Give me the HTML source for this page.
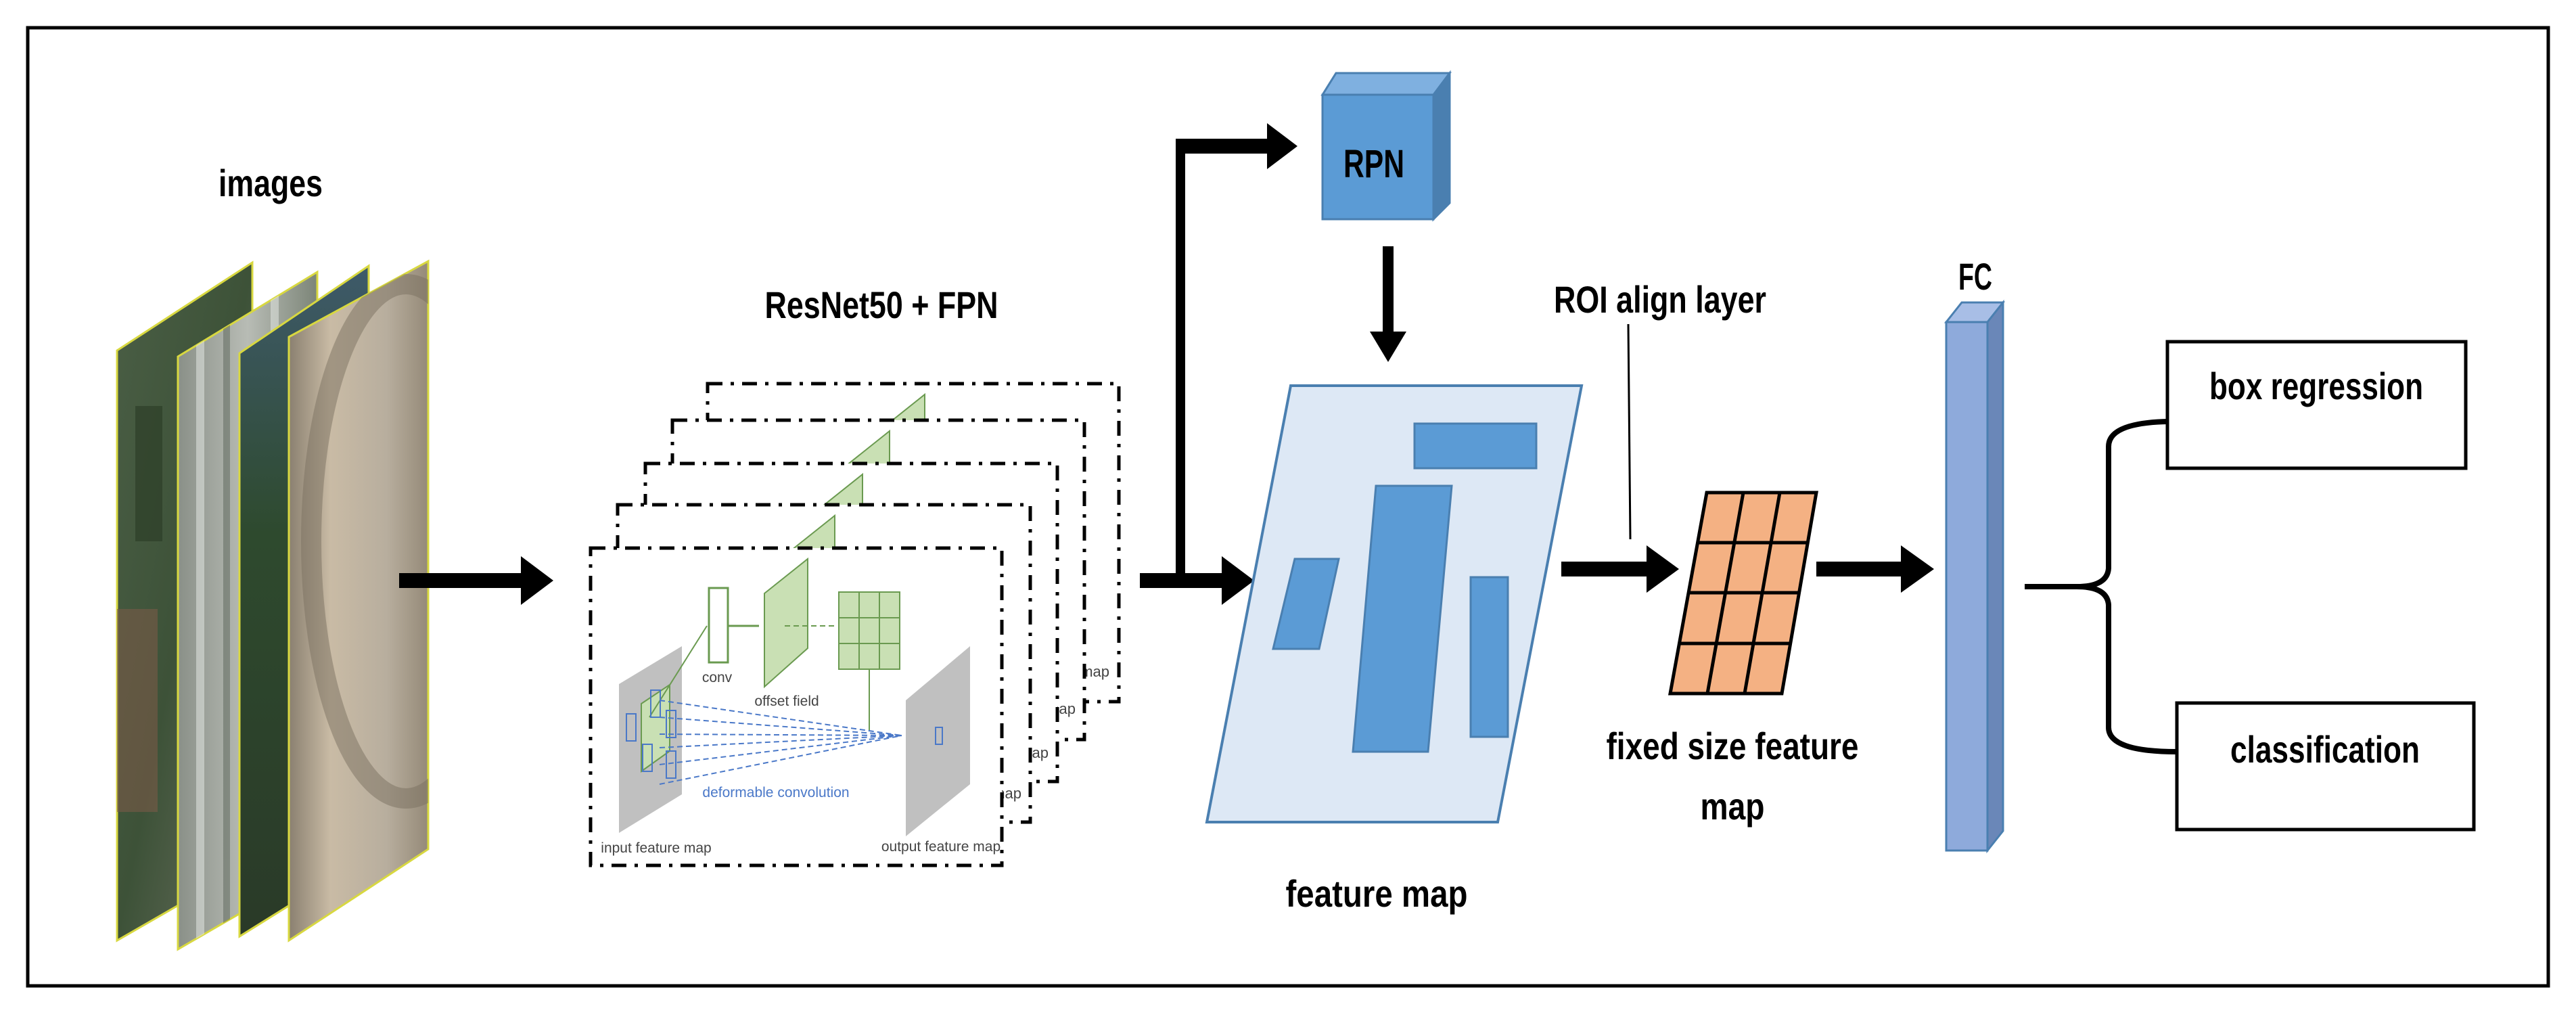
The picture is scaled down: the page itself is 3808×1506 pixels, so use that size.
<!DOCTYPE html>
<html><head><meta charset="utf-8"><style>html,body{margin:0;padding:0;background:#fff}svg{display:block}</style></head>
<body>
<svg width="3808" height="1506" viewBox="0 0 3808 1506" xmlns="http://www.w3.org/2000/svg" font-family="Liberation Sans, sans-serif">
<defs>
<linearGradient id="g1" x1="0" y1="0" x2="1" y2="1"><stop offset="0" stop-color="#4a5e45"/><stop offset="0.5" stop-color="#3d5238"/><stop offset="1" stop-color="#6b7060"/></linearGradient>
<linearGradient id="g2" x1="0" y1="0" x2="1" y2="0"><stop offset="0" stop-color="#8a9088"/><stop offset="0.5" stop-color="#b8bcb5"/><stop offset="1" stop-color="#7c8578"/></linearGradient>
<linearGradient id="g3" x1="0" y1="0" x2="0" y2="1"><stop offset="0" stop-color="#3e5a6a"/><stop offset="0.4" stop-color="#2e4a2e"/><stop offset="1" stop-color="#2a3a28"/></linearGradient>
<linearGradient id="g4" x1="0" y1="0" x2="1" y2="0"><stop offset="0" stop-color="#8a8070"/><stop offset="0.3" stop-color="#c9bba5"/><stop offset="0.7" stop-color="#b8ae9e"/><stop offset="1" stop-color="#958a78"/></linearGradient>
<clipPath id="c1"><polygon points="173,518 373,388 373,1275 173,1390"/></clipPath>
<clipPath id="c2"><polygon points="263,527 469,402 469,1284 263,1403"/></clipPath>
<clipPath id="c4"><polygon points="427,498 633,386 633,1255 427,1390"/></clipPath>
</defs>
<rect x="41" y="41" width="3726" height="1416" fill="#fff" stroke="#000" stroke-width="5"/>

<!-- images -->
<text x="400" y="290" font-size="56" font-weight="bold" text-anchor="middle" textLength="154" lengthAdjust="spacingAndGlyphs">images</text>
<polygon points="173,518 373,388 373,1275 173,1390" fill="url(#g1)" stroke="#d8d840" stroke-width="3"/>
<g clip-path="url(#c1)" opacity="0.6"><rect x="173" y="900" width="60" height="300" fill="#7a5a48"/><rect x="200" y="600" width="40" height="200" fill="#2a3a25"/></g>
<polygon points="263,527 469,402 469,1284 263,1403" fill="url(#g2)" stroke="#d8d840" stroke-width="3"/>
<g clip-path="url(#c2)" opacity="0.5"><rect x="290" y="400" width="12" height="1000" fill="#e8ece8"/><rect x="330" y="400" width="10" height="1000" fill="#5a6458"/><rect x="400" y="400" width="12" height="1000" fill="#e8ece8"/></g>
<polygon points="354,522 545,393 545,1265 354,1384" fill="url(#g3)" stroke="#d8d840" stroke-width="3"/>
<polygon points="427,498 633,386 633,1255 427,1390" fill="url(#g4)" stroke="#d8d840" stroke-width="3"/>
<g clip-path="url(#c4)" opacity="0.5"><ellipse cx="600" cy="800" rx="140" ry="380" fill="none" stroke="#7a7060" stroke-width="30"/></g>

<!-- arrow images -> resnet -->
<rect x="590" y="847" width="185" height="22" fill="#000"/>
<polygon points="770,822 818,858 770,894" fill="#000"/>

<text x="1303" y="470" font-size="56" font-weight="bold" text-anchor="middle" textLength="345" lengthAdjust="spacingAndGlyphs">ResNet50 + FPN</text>

<!-- back boxes -->
<g stroke="#000" stroke-width="5" stroke-dasharray="22,12,5,12" fill="#fff">
<rect x="1046" y="567" width="608" height="470"/>
<polygon points="1303,634 1367,583 1367,715 1303,772" fill="#c9e0b4" stroke="#6a9a50" stroke-width="2" stroke-dasharray="none"/>
<text x="1640" y="1000" font-size="22" fill="#444" stroke="none" text-anchor="end">map</text>
<rect x="994" y="621" width="609" height="472"/>
<polygon points="1251,688 1315,637 1315,769 1251,826" fill="#c9e0b4" stroke="#6a9a50" stroke-width="2" stroke-dasharray="none"/>
<text x="1590" y="1055" font-size="22" fill="#444" stroke="none" text-anchor="end">map</text>
<rect x="954" y="685" width="609" height="470"/>
<polygon points="1211,752 1275,701 1275,833 1211,890" fill="#c9e0b4" stroke="#6a9a50" stroke-width="2" stroke-dasharray="none"/>
<text x="1550" y="1120" font-size="22" fill="#444" stroke="none" text-anchor="end">map</text>
<rect x="913" y="746" width="610" height="469"/>
<polygon points="1170,813 1234,762 1234,894 1170,951" fill="#c9e0b4" stroke="#6a9a50" stroke-width="2" stroke-dasharray="none"/>
<text x="1510" y="1180" font-size="22" fill="#444" stroke="none" text-anchor="end">map</text>
<rect x="873" y="810" width="608" height="469"/>
</g>
<!-- front box content -->
<polygon points="915,1011 1008,955 1008,1174 915,1231" fill="#c0c0c0"/>
<polygon points="1339,1035 1434,955 1434,1159 1339,1236" fill="#c0c0c0"/>
<polygon points="948,1040 990,1012 990,1110 948,1140" fill="#c9e0b4" stroke="#6a9a50" stroke-width="2"/>
<rect x="1048" y="869" width="28" height="110" fill="#fff" stroke="#6a9a50" stroke-width="3"/>
<polygon points="1130,877 1194,826 1194,958 1130,1015" fill="#c9e0b4" stroke="#6a9a50" stroke-width="2"/>
<rect x="1240" y="875" width="90" height="114" fill="#c9e0b4" stroke="#6a9a50" stroke-width="2"/>
<g stroke="#6a9a50" stroke-width="2"><line x1="1270" y1="875" x2="1270" y2="989"/><line x1="1300" y1="875" x2="1300" y2="989"/><line x1="1240" y1="913" x2="1330" y2="913"/><line x1="1240" y1="951" x2="1330" y2="951"/>
<line x1="1076" y1="925" x2="1122" y2="925" stroke-width="3"/><line x1="1160" y1="925" x2="1235" y2="925" stroke-dasharray="8,5"/><line x1="1285" y1="989" x2="1285" y2="1080"/><line x1="960" y1="1060" x2="1045" y2="925"/></g>
<g stroke="#4a78c8" stroke-width="2" stroke-dasharray="8,5" fill="none">
<line x1="975" y1="1035" x2="1333" y2="1087"/><line x1="975" y1="1060" x2="1333" y2="1087"/><line x1="975" y1="1085" x2="1333" y2="1087"/><line x1="975" y1="1105" x2="1333" y2="1087"/><line x1="975" y1="1130" x2="1333" y2="1087"/><line x1="975" y1="1159" x2="1333" y2="1087"/></g>
<g stroke="#4a78c8" stroke-width="2" fill="none"><rect x="926" y="1055" width="14" height="40"/><rect x="962" y="1020" width="14" height="40"/><rect x="985" y="1050" width="14" height="40"/><rect x="950" y="1100" width="14" height="40"/><rect x="985" y="1110" width="14" height="40"/><rect x="1383" y="1075" width="10" height="25"/></g>
<g font-size="21" fill="#444"><text x="1060" y="1008" text-anchor="middle">conv</text><text x="1163" y="1043" text-anchor="middle">offset field</text><text x="970" y="1260" text-anchor="middle">input feature map</text><text x="1391" y="1258" text-anchor="middle">output feature map</text><text x="1147" y="1178" text-anchor="middle" fill="#4a78c8">deformable convolution</text></g>

<!-- arrows to feature map / RPN -->
<rect x="1685" y="847" width="125" height="22" fill="#000"/>
<polygon points="1806,822 1854,858 1806,894" fill="#000"/>
<rect x="1738" y="209" width="14" height="650" fill="#000"/>
<rect x="1738" y="205" width="140" height="22" fill="#000"/>
<polygon points="1873,182 1918,216 1873,250" fill="#000"/>

<!-- RPN cube -->
<polygon points="1955,140 1975,108 2143,108 2119,140" fill="#7fb0e0" stroke="#4a7fb0" stroke-width="3"/>
<polygon points="2119,140 2143,108 2143,300 2119,324" fill="#4a7fb0" stroke="#4a7fb0" stroke-width="3"/>
<rect x="1955" y="140" width="164" height="184" fill="#5b9bd5" stroke="#4a7fb0" stroke-width="3"/>
<text x="2031" y="262" font-size="58" font-weight="bold" text-anchor="middle" textLength="90" lengthAdjust="spacingAndGlyphs">RPN</text>
<rect x="2044" y="364" width="16" height="130" fill="#000"/>
<polygon points="2025,490 2079,490 2052,535" fill="#000"/>

<!-- feature map -->
<polygon points="1908,570 2338,570 2214,1215 1784,1215" fill="#dde8f5" stroke="#4a7fb0" stroke-width="4"/>
<rect x="2091" y="626" width="180" height="66" fill="#5b9bd5" stroke="#4a7fb0" stroke-width="3"/>
<polygon points="2034,718 2146,718 2111,1111 2000,1111" fill="#5b9bd5" stroke="#4a7fb0" stroke-width="3"/>
<rect x="2174" y="853" width="55" height="236" fill="#5b9bd5" stroke="#4a7fb0" stroke-width="3"/>
<polygon points="1914,826 1979,826 1950,959 1882,959" fill="#5b9bd5" stroke="#4a7fb0" stroke-width="3"/>
<text x="2035" y="1340" font-size="56" font-weight="bold" text-anchor="middle" textLength="269" lengthAdjust="spacingAndGlyphs">feature map</text>

<!-- ROI -->
<text x="2454" y="462" font-size="56" font-weight="bold" text-anchor="middle" textLength="314" lengthAdjust="spacingAndGlyphs">ROI align layer</text>
<line x1="2407" y1="479" x2="2410" y2="797" stroke="#000" stroke-width="3"/>
<rect x="2308" y="830" width="130" height="22" fill="#000"/>
<polygon points="2434,806 2482,841 2434,876" fill="#000"/>

<!-- grid -->
<polygon points="2523,728 2685,728 2634,1025 2469,1025" fill="#f4b183" stroke="#000" stroke-width="5"/>
<g stroke="#000" stroke-width="5">
<line x1="2577" y1="728" x2="2524" y2="1025"/><line x1="2631" y1="728" x2="2579" y2="1025"/>
<line x1="2509" y1="802" x2="2672" y2="802"/><line x1="2496" y1="876" x2="2660" y2="876"/><line x1="2482" y1="951" x2="2647" y2="951"/></g>
<text x="2561" y="1122" font-size="56" font-weight="bold" text-anchor="middle" textLength="373" lengthAdjust="spacingAndGlyphs">fixed size feature</text>
<text x="2561" y="1211" font-size="56" font-weight="bold" text-anchor="middle" textLength="95" lengthAdjust="spacingAndGlyphs">map</text>
<rect x="2685" y="830" width="130" height="22" fill="#000"/>
<polygon points="2810,806 2859,841 2810,876" fill="#000"/>

<!-- FC -->
<polygon points="2877,476 2900,447 2961,447 2938,476" fill="#a8bee6" stroke="#4a7fb0" stroke-width="3"/>
<polygon points="2938,476 2961,447 2961,1228 2938,1257" fill="#6a87b8" stroke="#4a7fb0" stroke-width="3"/>
<rect x="2877" y="476" width="61" height="781" fill="#8eaadb" stroke="#4a7fb0" stroke-width="3"/>
<text x="2920" y="428" font-size="56" font-weight="bold" text-anchor="middle" textLength="50" lengthAdjust="spacingAndGlyphs">FC</text>

<!-- brace -->
<path d="M2993,867 L3070,867 Q3115,867 3117,840 L3117,660 Q3117,625 3204,623 M3070,867 Q3115,867 3117,894 L3117,1075 Q3117,1111 3218,1111" fill="none" stroke="#000" stroke-width="8"/>

<rect x="3204" y="505" width="441" height="187" fill="#fff" stroke="#000" stroke-width="5"/>
<text x="3424" y="590" font-size="56" font-weight="bold" text-anchor="middle" textLength="316" lengthAdjust="spacingAndGlyphs">box regression</text>
<rect x="3218" y="1039" width="439" height="187" fill="#fff" stroke="#000" stroke-width="5"/>
<text x="3437" y="1127" font-size="56" font-weight="bold" text-anchor="middle" textLength="280" lengthAdjust="spacingAndGlyphs">classification</text>
</svg>
</body></html>
